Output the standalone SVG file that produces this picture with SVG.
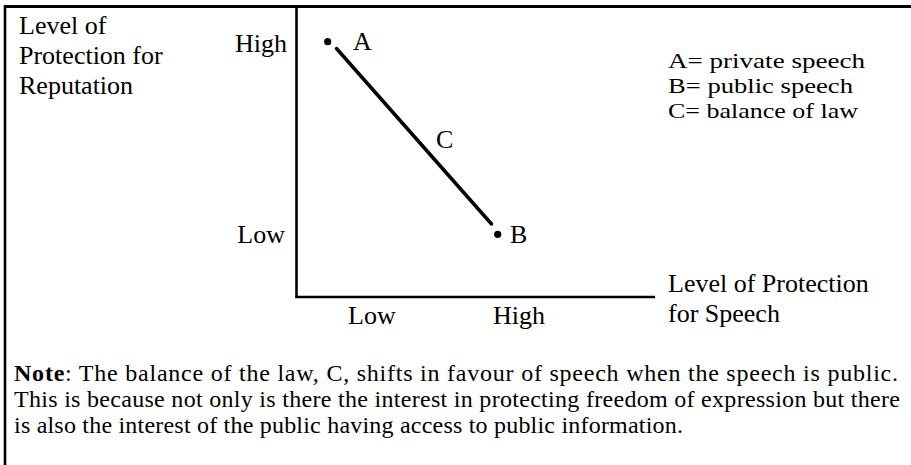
<svg xmlns="http://www.w3.org/2000/svg" width="911" height="465" viewBox="0 0 911 465">
<style>
  text { font-family: "Liberation Serif", "Times New Roman", serif; fill: #000; }
  .lbl { font-size: 26px; }
  .leg { font-size: 22px; }
  .note { font-size: 24px; }
  .ax { stroke: #000; stroke-width: 2.6; fill: none; }
</style>
<rect width="911" height="465" fill="#fff"/>
<g id="frame">
  <line x1="5" y1="6.5" x2="911" y2="6.5" stroke="#000" stroke-width="3"/>
  <line x1="5" y1="5" x2="5" y2="465" stroke="#000" stroke-width="2.6"/>
</g>
<g id="axes">
  <line class="ax" x1="296.5" y1="7" x2="296.5" y2="297"/>
  <line class="ax" x1="295.2" y1="297" x2="655" y2="297"/>
</g>
<g id="y-axis-title">
  <text class="lbl" x="19" y="34">Level of</text>
  <text class="lbl" x="19" y="64">Protection for</text>
  <text class="lbl" x="19" y="94">Reputation</text>
</g>
<g id="y-ticks">
  <text class="lbl" x="287" y="52" text-anchor="end">High</text>
  <text class="lbl" x="285" y="243" text-anchor="end">Low</text>
</g>
<g id="x-ticks">
  <text class="lbl" x="348" y="324">Low</text>
  <text class="lbl" x="493" y="324">High</text>
</g>
<g id="x-axis-title">
  <text class="lbl" x="668" y="292">Level of Protection</text>
  <text class="lbl" x="668" y="322">for Speech</text>
</g>
<g id="connectors">
  <line x1="336.5" y1="48.5" x2="491.5" y2="224" stroke="#000" stroke-width="3.5" stroke-linecap="round"/>
</g>
<g id="point-A">
  <circle cx="327.7" cy="41.7" r="3.6" fill="#000"/>
  <text class="lbl" x="353" y="50">A</text>
</g>
<g id="point-C">
  <text class="lbl" x="436" y="148">C</text>
</g>
<g id="point-B">
  <circle cx="497.7" cy="234.3" r="3.6" fill="#000"/>
  <text class="lbl" x="510" y="243">B</text>
</g>
<g id="legend">
  <text class="leg" x="668" y="68" textLength="197" lengthAdjust="spacingAndGlyphs">A= private speech</text>
  <text class="leg" x="668" y="93" textLength="185" lengthAdjust="spacingAndGlyphs">B= public speech</text>
  <text class="leg" x="668" y="118" textLength="190" lengthAdjust="spacingAndGlyphs">C= balance of law</text>
</g>
<g id="note">
  <text class="note" x="14" y="381" textLength="884" lengthAdjust="spacing"><tspan font-weight="bold">Note</tspan>: The balance of the law, C, shifts in favour of speech when the speech is public.</text>
  <text class="note" x="14" y="407" textLength="886" lengthAdjust="spacing">This is because not only is there the interest in protecting freedom of expression but there</text>
  <text class="note" x="14" y="433" textLength="669" lengthAdjust="spacing">is also the interest of the public having access to public information.</text>
</g>
</svg>
